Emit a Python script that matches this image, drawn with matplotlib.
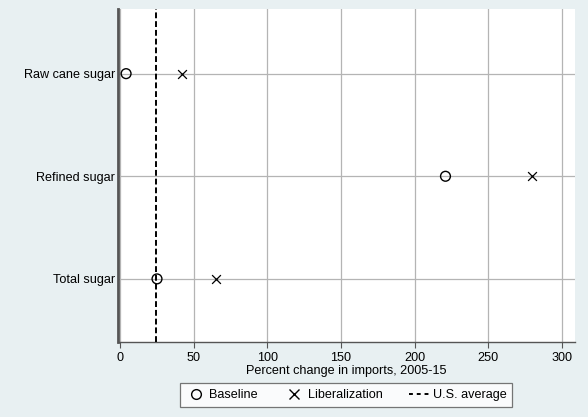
import matplotlib.pyplot as plt
from matplotlib.lines import Line2D

plt.rcParams['font.family'] = ['Liberation Sans', 'DejaVu Sans']

categories = ['Total sugar', 'Refined sugar', 'Raw cane sugar']
baseline = [25, 221, 4]
liberalization = [65, 280, 42]
us_average = 24
xticks = [0, 50, 100, 150, 200, 250, 300]

bg = '#e8f0f2'
fs = 9.1
fig = plt.figure(figsize=(5.88, 4.17), dpi=100, facecolor=bg)
ax = fig.add_axes([118/588, 1 - 342/417, (575-118)/588, (342-9)/417])
ax.set_facecolor('white')

ypos = list(range(1, len(categories) + 1))
ax.set_yticks(ypos)
ax.set_yticklabels(categories)
ax.set_xticks(xticks)
ax.set_xlim(-1.5, 309)
ax.set_ylim(0.385, 3.63)

ax.grid(True, color='#b4b4b4', linewidth=0.9)
ax.set_axisbelow(True)

ax.axvline(us_average, color='black', linestyle=(0, (3, 1.5)), linewidth=1.4, zorder=3)
ax.scatter(baseline, ypos, s=50, facecolors='none', edgecolors='black', linewidths=1.0, zorder=4)
ax.scatter(liberalization, ypos, s=40, marker='x', color='black', linewidths=0.9, zorder=4)

for s in ['top', 'right']:
    ax.spines[s].set_visible(False)
ax.spines['left'].set_color('#555555')
ax.spines['left'].set_linewidth(2.0)
ax.spines['bottom'].set_color('#555555')
ax.spines['bottom'].set_linewidth(1.0)

ax.tick_params(axis='x', length=4, color='#555555', labelsize=fs, pad=3)
ax.tick_params(axis='y', length=0, color='#555555', labelsize=fs, pad=2)
ax.set_xlabel('Percent change in imports, 2005-15', fontsize=fs, labelpad=1)

handles = [
    Line2D([], [], marker='o', markerfacecolor='none', markeredgecolor='black', linestyle='none', markersize=7),
    Line2D([], [], marker='x', color='black', linestyle='none', markersize=6.5),
    Line2D([], [], color='black', linestyle=(0, (2, 2)), linewidth=1.4),
]
leg = fig.legend(handles, ['Baseline', 'Liberalization', 'U.S. average'],
                 loc='center', bbox_to_anchor=(346/588, 1 - 395/417), ncol=3,
                 fontsize=fs, frameon=True, fancybox=False, edgecolor='#555555',
                 handlelength=1.6, columnspacing=2.05, handletextpad=0.3,
                 borderpad=0.45, borderaxespad=0)
leg.get_frame().set_linewidth(0.9)

fig.savefig('out.png', dpi=100, facecolor=bg)
